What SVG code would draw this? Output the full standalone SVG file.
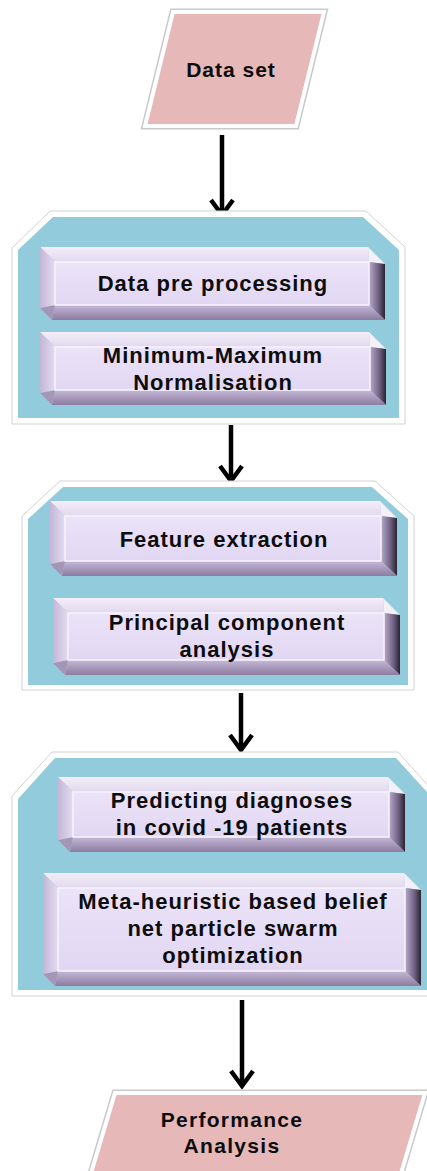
<svg xmlns="http://www.w3.org/2000/svg" width="427" height="1171" viewBox="0 0 427 1171">
<defs>
<style>
.lbl{font-family:"Liberation Sans",Arial,sans-serif;font-weight:bold;font-size:22px;letter-spacing:1px;fill:#0d0d0d;text-anchor:middle}
.io{fill:#e6b8b8;stroke:#ffffff;stroke-width:4;stroke-linejoin:miter}
.ioShadow{fill:none;stroke:#c9c9c9;stroke-width:7}
.contOuter{fill:#ffffff;stroke:#d2d2d2;stroke-width:1}
.contInner{fill:#92cbdb}
.ftop{fill:url(#gTop)}
.fleft{fill:url(#gLeft)}
.fright{fill:url(#gRight)}
.fbot{fill:url(#gBot)}
.ctr{fill:#f4f0f8}
.cbl{fill:#a596b8}
.inner{fill:url(#gInner);stroke:#f8f5fc;stroke-width:1.5}
.conn{stroke:#000;stroke-width:4.5;fill:none;marker-end:url(#ah)}
</style>
<linearGradient id="gTop" x1="0" y1="0" x2="0" y2="1"><stop offset="0" stop-color="#f3eef9"/><stop offset="1" stop-color="#e2d8ef"/></linearGradient>
<linearGradient id="gLeft" x1="0" y1="0" x2="1" y2="0"><stop offset="0" stop-color="#c4b6d6"/><stop offset="1" stop-color="#e4dbf1"/></linearGradient>
<linearGradient id="gRight" x1="0" y1="0" x2="1" y2="0"><stop offset="0" stop-color="#b9aacb"/><stop offset="0.6" stop-color="#6e6080"/><stop offset="1" stop-color="#2a2232"/></linearGradient>
<linearGradient id="gBot" x1="0" y1="0" x2="0" y2="1"><stop offset="0" stop-color="#c6b8d8"/><stop offset="1" stop-color="#8c7ca0"/></linearGradient>
<linearGradient id="gInner" x1="0" y1="0" x2="0" y2="1"><stop offset="0" stop-color="#ebe3f8"/><stop offset="1" stop-color="#e2d7f3"/></linearGradient>
<marker id="ah" viewBox="-20 -14 25 28" refX="0" refY="0" markerWidth="25" markerHeight="28" markerUnits="userSpaceOnUse" orient="auto">
<path d="M -15 -11 L 0 0 L -15 11" fill="none" stroke="#000" stroke-width="4.5"/>
</marker>
</defs>

<g id="connectors">
<line class="conn" x1="222" y1="135" x2="222" y2="215"/>
<line class="conn" x1="231" y1="425" x2="231" y2="481"/>
<line class="conn" x1="241" y1="693" x2="241" y2="750"/>
<line class="conn" x1="242" y1="1000" x2="242" y2="1086"/>
</g>

<g id="dataset">
<polygon class="ioShadow" points="173,12 324,12 296,126 145,126"/>
<polygon class="io" points="173,12 324,12 296,126 145,126"/>
<text class="lbl" x="231" y="77" style="font-size:21px">Data set</text>
</g>

<g id="stage1">
<polygon class="contOuter" points="12,248 50,211 366,211 405,247 405,424 12,424"/>
<polygon class="contInner" points="18,250 53,217 363,217 399,250 399,418 18,418"/>
</g>

<g id="preprocessing">
<polygon class="ftop" points="40,247 368,247 369,262 55,262"/>
<polygon class="ctr" points="368,247 385,264 369,262"/>
<polygon class="fright" points="369,262 385,264 385,320 369,305"/>
<polygon class="fbot" points="385,320 52,320 55,305 369,305"/>
<polygon class="cbl" points="52,320 40,308 55,305"/>
<polygon class="fleft" points="40,247 55,262 55,305 40,308"/>
<rect class="inner" x="55" y="262" width="314" height="43"/>
<text class="lbl" x="213" y="291">Data pre processing</text>
</g>

<g id="normalisation">
<polygon class="ftop" points="40,332 369,332 370,347 55,347"/>
<polygon class="ctr" points="369,332 386,349 370,347"/>
<polygon class="fright" points="370,347 386,349 386,405 370,390"/>
<polygon class="fbot" points="386,405 52,405 55,390 370,390"/>
<polygon class="cbl" points="52,405 40,393 55,390"/>
<polygon class="fleft" points="40,332 55,347 55,390 40,393"/>
<rect class="inner" x="55" y="347" width="315" height="43"/>
<text class="lbl" x="213" y="363">Minimum-Maximum</text>
<text class="lbl" x="213" y="390">Normalisation</text>
</g>

<g id="stage2">
<polygon class="contOuter" points="22,516 60,481 375,481 414,516 414,690 22,690"/>
<polygon class="contInner" points="28,519 63,487 372,487 408,519 408,685 28,685"/>
</g>

<g id="feature">
<polygon class="ftop" points="50,501 380,501 381,516 65,516"/>
<polygon class="ctr" points="380,501 397,518 381,516"/>
<polygon class="fright" points="381,516 397,518 397,576 381,561"/>
<polygon class="fbot" points="397,576 62,576 65,561 381,561"/>
<polygon class="cbl" points="62,576 50,564 65,561"/>
<polygon class="fleft" points="50,501 65,516 65,561 50,564"/>
<rect class="inner" x="65" y="516" width="316" height="45"/>
<text class="lbl" x="224" y="547">Feature extraction</text>
</g>

<g id="pca">
<polygon class="ftop" points="53,598 383,598 384,613 68,613"/>
<polygon class="ctr" points="383,598 400,615 384,613"/>
<polygon class="fright" points="384,613 400,615 400,675 384,660"/>
<polygon class="fbot" points="400,675 65,675 68,660 384,660"/>
<polygon class="cbl" points="65,675 53,663 68,660"/>
<polygon class="fleft" points="53,598 68,613 68,660 53,663"/>
<rect class="inner" x="68" y="613" width="316" height="47"/>
<text class="lbl" x="227" y="630">Principal component</text>
<text class="lbl" x="227" y="657">analysis</text>
</g>

<g id="stage3">
<polygon class="contOuter" points="12,796 52,752 398,752 432,790 432,996 12,996"/>
<polygon class="contInner" points="18,799 55,758 396,758 427,792 427,990 18,990"/>
</g>

<g id="predicting">
<polygon class="ftop" points="58,777 388,777 389,792 73,792"/>
<polygon class="ctr" points="388,777 405,794 389,792"/>
<polygon class="fright" points="389,792 405,794 405,852 389,837"/>
<polygon class="fbot" points="405,852 70,852 73,837 389,837"/>
<polygon class="cbl" points="70,852 58,840 73,837"/>
<polygon class="fleft" points="58,777 73,792 73,837 58,840"/>
<rect class="inner" x="73" y="792" width="316" height="45"/>
<text class="lbl" x="232" y="808">Predicting diagnoses</text>
<text class="lbl" x="232" y="835">in covid -19 patients</text>
</g>

<g id="metaheuristic">
<polygon class="ftop" points="43,873 404,873 405,888 58,888"/>
<polygon class="ctr" points="404,873 421,890 405,888"/>
<polygon class="fright" points="405,888 421,890 421,986 405,971"/>
<polygon class="fbot" points="421,986 55,986 58,971 405,971"/>
<polygon class="cbl" points="55,986 43,974 58,971"/>
<polygon class="fleft" points="43,873 58,888 58,971 43,974"/>
<rect class="inner" x="58" y="888" width="347" height="83"/>
<text class="lbl" x="233" y="909">Meta-heuristic based belief</text>
<text class="lbl" x="233" y="936">net particle swarm</text>
<text class="lbl" x="233" y="963">optimization</text>
</g>

<g id="performance">
<polygon class="ioShadow" points="115,1093 425,1093 399,1180 89,1180"/>
<polygon class="io" points="115,1093 425,1093 399,1180 89,1180"/>
<text class="lbl" x="232" y="1127" style="font-size:21px;letter-spacing:1.3px">Performance</text>
<text class="lbl" x="232" y="1153" style="font-size:21px;letter-spacing:1.3px">Analysis</text>
</g>
</svg>
